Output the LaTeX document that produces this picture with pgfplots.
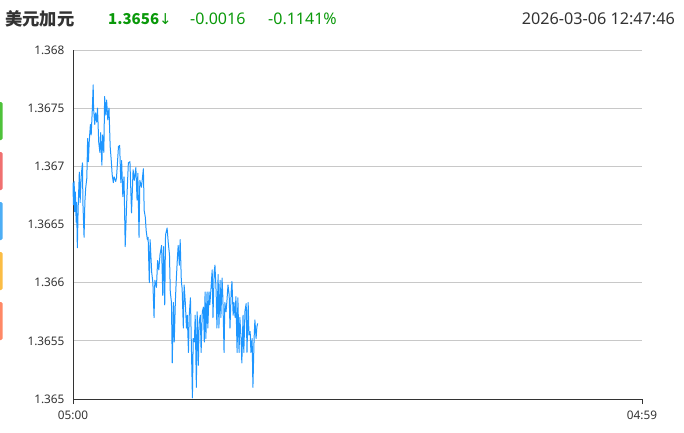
\documentclass[border=0pt]{standalone}
\usepackage{pgfplots}
\pgfplotsset{compat=1.18}
\usepackage{fontspec}
\setmainfont{Noto Sans}
\newfontfamily\cjk{Noto Sans CJK SC}
\newfontfamily\dejavu{DejaVu Sans}
\definecolor{linec}{HTML}{1E96FF}
\definecolor{txt}{HTML}{333333}
\definecolor{upg}{HTML}{0A990A}
\definecolor{gridc}{HTML}{C8C8C8}
\definecolor{tabg}{HTML}{4EC23A}
\definecolor{tabr}{HTML}{F07070}
\definecolor{tabb}{HTML}{4DAEF5}
\definecolor{taby}{HTML}{FBBD45}
\definecolor{tabo}{HTML}{FF8866}
\begin{document}
\begin{tikzpicture}
\path[use as bounding box] (0pt,0pt) rectangle (684pt,432pt);
\fill[tabg, rounded corners=1.5pt] (-4pt,292pt) rectangle (2.7pt,330pt);
\fill[tabr, rounded corners=1.5pt] (-4pt,242pt) rectangle (2.7pt,280pt);
\fill[tabb, rounded corners=1.5pt] (-4pt,192pt) rectangle (2.7pt,230pt);
\fill[taby, rounded corners=1.5pt] (-4pt,142pt) rectangle (2.7pt,180pt);
\fill[tabo, rounded corners=1.5pt] (-4pt,92pt) rectangle (2.7pt,130pt);
\node[anchor=west, inner sep=0pt, text=txt, font=\cjk\bfseries\fontsize{17.3}{19}\selectfont] at (5pt,413pt) {美元加元};
\node[anchor=west, inner sep=0pt, text=upg, font=\cjk\bfseries\fontsize{15}{18}\selectfont] at (108pt,413pt) {1.3656{\dejavu\mdseries ↓}};
\node[anchor=west, inner sep=0pt, text=upg, font=\fontsize{16}{18}\selectfont] at (190pt,413pt) {-0.0016};
\node[anchor=west, inner sep=0pt, text=upg, font=\fontsize{16}{18}\selectfont] at (268pt,413pt) {-0.1141\%};
\node[anchor=east, inner sep=0pt, text=txt, font=\fontsize{16.2}{18}\selectfont] at (675pt,413pt) {2026-03-06 12:47:46};
\begin{axis}[
  at={(73pt,33pt)}, anchor=south west,
  scale only axis, width=569pt, height=349pt,
  xmin=0, xmax=1439, ymin=1.365, ymax=1.368,
  axis lines*=left,
  axis line style={color=txt, line width=0.8pt},
  xtick={0,1439}, xticklabels={05:00,04:59},
  ytick={1.365,1.3655,1.366,1.3665,1.367,1.3675,1.368},
  yticklabels={1.365,1.3655,1.366,1.3665,1.367,1.3675,1.368},
  ymajorgrids, grid style={color=gridc, line width=0.7pt},
  xtick style={color=txt, line width=0.8pt},
  ytick style={draw=none},
  tick align=outside, major tick length=5pt,
  ticklabel style={font=\fontsize{11.8}{13}\selectfont, text=txt},
  /pgf/number format/assume math mode=true,
  xticklabel style={yshift=-3pt},
  yticklabel style={xshift=0pt},
  clip=false,
]
\addplot[color=linec, line width=1pt, line join=round] coordinates {
(0,1.36686)(1,1.36667)(3,1.36687)(4,1.36661)(6,1.36678)(8,1.36652)(9,1.36669)(11,1.36630)
(13,1.36664)(16,1.36695)(18,1.36669)(21,1.36693)(24,1.36703)(25,1.36669)(28,1.36639)(30,1.36669)
(32,1.36681)(35,1.36690)(37,1.36724)(39,1.36704)(41,1.36721)(44,1.36736)(46,1.36727)(49,1.36750)
(51,1.36770)(52,1.36750)(55,1.36736)(57,1.36746)(60,1.36738)(62,1.36750)(65,1.36721)(68,1.36712)
(70,1.36729)(73,1.36701)(75,1.36727)(78,1.36712)(80,1.36760)(83,1.36744)(85,1.36757)(88,1.36740)
(91,1.36750)(94,1.36717)(97,1.36704)(99,1.36693)(102,1.36686)(104,1.36691)(108,1.36687)(110,1.36690)
(115,1.36717)(118,1.36718)(121,1.36686)(123,1.36705)(126,1.36674)(129,1.36691)(132,1.36631)(136,1.36671)
(140,1.36703)(144,1.36704)(148,1.36660)(152,1.36697)(155,1.36688)(159,1.36699)(162,1.36671)(164,1.36694)
(167,1.36639)(169,1.36688)(173,1.36682)(175,1.36688)(178,1.36698)(180,1.36662)(183,1.36656)(185,1.36645)
(188,1.36637)(190,1.36639)(193,1.36600)(195,1.36637)(199,1.36609)(202,1.36600)(205,1.36570)(207,1.36602)
(211,1.36596)(214,1.36619)(217,1.36611)(220,1.36624)(224,1.36632)(227,1.36589)(229,1.36631)(232,1.36581)
(234,1.36641)(238,1.36647)(241,1.36634)(244,1.36624)(246,1.36592)(249,1.36583)(251,1.36531)(254,1.36583)
(256,1.36549)(259,1.36585)(261,1.36601)(264,1.36621)(266,1.36632)(269,1.36615)(271,1.36637)(274,1.36601)
(276,1.36595)(279,1.36561)(281,1.36598)(284,1.36583)(287,1.36561)(289,1.36572)(292,1.36540)(294,1.36572)
(297,1.36587)(299,1.36552)(302,1.36501)(304,1.36552)(307,1.36549)(309,1.36572)(312,1.36510)(314,1.36575)
(317,1.36529)(319,1.36566)(322,1.36572)(324,1.36540)(327,1.36575)(330,1.36579)(332,1.36549)(334,1.36592)
(336,1.36552)(339,1.36592)(341,1.36561)(344,1.36592)(346,1.36581)(349,1.36595)(352,1.36611)(354,1.36570)
(357,1.36609)(359,1.36615)(362,1.36592)(364,1.36561)(367,1.36607)(369,1.36561)(372,1.36602)(374,1.36570)
(377,1.36604)(379,1.36587)(382,1.36540)(384,1.36583)(387,1.36575)(389,1.36583)(392,1.36598)(395,1.36589)
(397,1.36561)(400,1.36592)(402,1.36601)(405,1.36572)(407,1.36583)(410,1.36570)(412,1.36588)(415,1.36540)
(417,1.36587)(420,1.36540)(422,1.36570)(425,1.36552)(427,1.36531)(430,1.36572)(432,1.36540)(435,1.36576)
(438,1.36582)(440,1.36540)(443,1.36583)(445,1.36555)(448,1.36558)(450,1.36540)(453,1.36552)(455,1.36510)
(458,1.36552)(460,1.36568)(463,1.36552)(465,1.36562)(467,1.36565)
};
\end{axis}
\end{tikzpicture}
\end{document}
